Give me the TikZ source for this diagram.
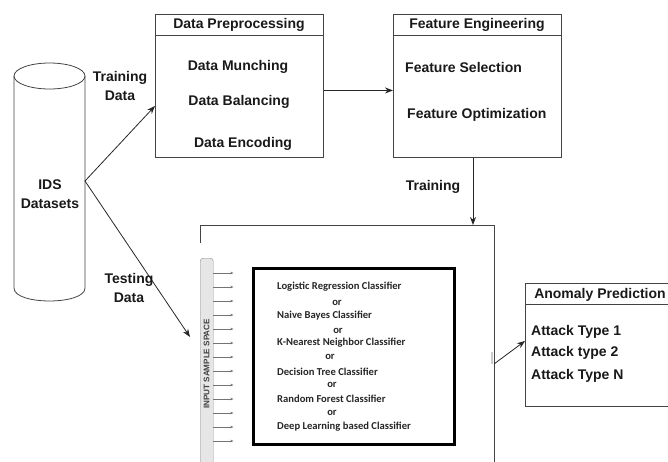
\documentclass[tikz,border=0pt]{standalone}
\usepackage{fontspec}
\setmainfont{Liberation Sans}
\newfontfamily\clffont{Carlito}
\usetikzlibrary{arrows.meta}
\definecolor{linegray}{HTML}{444444}
\definecolor{bargray}{HTML}{E6E6E6}
\tikzset{
  blockbox/.style={draw=linegray, line width=0.9pt, minimum width=168pt, minimum height=143pt, anchor=north west, inner sep=0pt},
  lbl/.style={font=\bfseries\fontsize{14}{19}\selectfont, text=black!90, inner sep=0pt},
  clf/.style={font=\clffont\bfseries\fontsize{10.6}{12}\selectfont, text=black!85, inner sep=0pt},
  flow/.style={draw=black!85, line width=0.8pt, -{Stealth[length=8pt,width=6pt]}},
}

\begin{document}
\begin{tikzpicture}[x=1pt,y=-1pt]
\useasboundingbox (0,0) rectangle (668,461);
% IDS datasets
\draw[linegray, line width=0.8pt] (49.5,76) ellipse [x radius=35.5, y radius=13];
\draw[linegray, line width=0.8pt] (14,76) -- (14,288) .. controls (14,305.3) and (85,305.3) .. (85,288) -- (85,76);
\node[lbl, align=center] (ids) at (50,194) {IDS\\Datasets};
\coordinate (idsout) at (85,181);

% preprocessing
\node[blockbox] (prep) at (155,14) {};
\draw[linegray, line width=0.9pt] ([yshift=-21pt]prep.north west) -- ([yshift=-21pt]prep.north east);
\node[lbl] (prephead) at (239,25) {Data Preprocessing};
\node[lbl] (munch) at (238,67) {Data Munching};
\node[lbl] (balance) at (239,102) {Data Balancing};
\node[lbl] (encode) at (243,144) {Data Encoding};

% feature engineering
\node[blockbox] (feat) at (393,14) {};
\draw[linegray, line width=0.9pt] ([yshift=-21pt]feat.north west) -- ([yshift=-21pt]feat.north east);
\node[lbl] (feathead) at (477,25) {Feature Engineering};
\node[lbl, anchor=west] (fsel) at (405,67) {Feature Selection};
\node[lbl, anchor=west] (fopt) at (407,115) {Feature Optimization};

\draw[flow] (idsout) -- ([yshift=-20pt]prep.west);
\node[lbl, align=center] (trainlbl) at (120,86) {Training\\Data};
\draw[flow] ([yshift=-4.5pt]prep.east) -- ([yshift=-4.5pt]feat.west);
\coordinate (clfin) at (473,225);
\draw[flow] (feat.south -| clfin) -- (clfin);
\node[lbl] (trainingl) at (433,187) {Training};

% model frame
\coordinate (bbtl) at (200,225);
\coordinate (bbtr) at (494,225);
\draw[linegray, line width=0.8pt] (200,243) -- (bbtl) -- (bbtr) -- (494,470);
\draw[black!20, line width=2pt] (492,352) -- (492,364);

\node[draw=black!45, fill=bargray, rounded corners=3pt, minimum width=13pt, minimum height=212pt, anchor=north west, inner sep=0pt] (insp) at (200,258) {};
\node[rotate=90, font=\bfseries\fontsize{8.1}{10}\selectfont, text=black!75, inner sep=0pt] (insplbl) at (206.5,364) {INPUT SAMPLE SPACE};
\foreach \y in {273,287,...,441}
  \draw[black!55, line width=0.5pt, -{Stealth[length=3pt,width=2.5pt]}] (insp.east |- 0,\y) -- ++(20,0);

\node[draw=black, line width=3pt, minimum width=201pt, minimum height=176pt, anchor=north west] (clfbox) at (252,267) {};
\foreach \txt/\y [count=\i] in {Logistic Regression Classifier/287, Naive Bayes Classifier/316, K-Nearest Neighbor Classifier/343, Decision Tree Classifier/372, Random Forest Classifier/399, Deep Learning based Classifier/427}
  \node[clf, anchor=west] (clf\i) at (277,\y) {\txt};
\foreach \x/\y [count=\i] in {337/303, 338/331, 330/357, 332/385, 332/413}
  \node[clf] (or\i) at (\x,\y) {or};

% prediction
\node[draw=linegray, line width=0.9pt, minimum width=150pt, minimum height=123pt, anchor=north west, inner sep=0pt] (anom) at (525,283) {};
\draw[linegray, line width=0.9pt] ([yshift=-21pt]anom.north west) -- ([yshift=-21pt]anom.north east);
\node[lbl] (anomhead) at (600,295) {Anomaly Prediction};
\node[lbl, anchor=west] (att1) at (531,332) {Attack Type 1};
\node[lbl, anchor=west] (att2) at (531,353) {Attack type 2};
\node[lbl, anchor=west] (attn) at (531,376) {Attack Type N};
\coordinate (clfout) at (494,364);
\draw[flow] (clfout) -- ([yshift=4pt]anom.west);

\coordinate (testend) at (190,337);
\draw[flow] (idsout) -- (testend);
\node[lbl, align=center] (testlbl) at (129,288) {Testing\\Data};
\end{tikzpicture}
\end{document}
